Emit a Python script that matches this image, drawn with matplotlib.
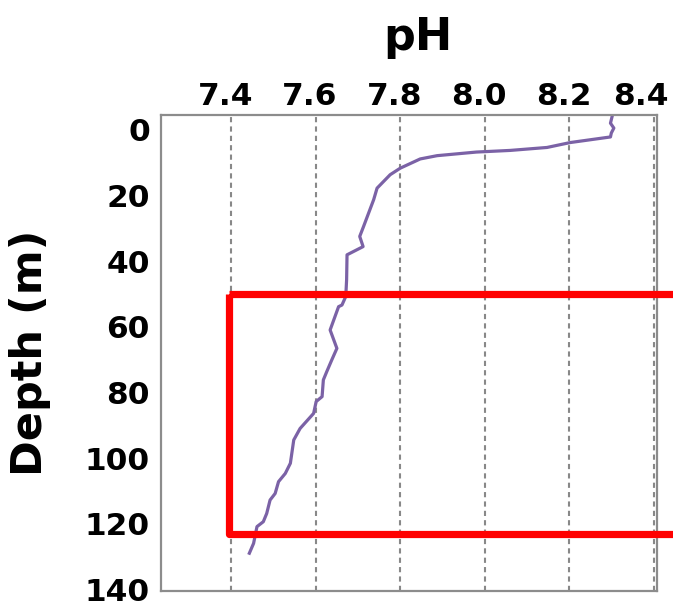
import matplotlib
matplotlib.use('Agg')
import matplotlib.pyplot as plt
import matplotlib.transforms as mtransforms
from matplotlib.patches import Rectangle

# pH profile (depth in m)
depth = [-4.1, -2.0, -0.5, 1.0, 2.2, 3.9, 5.4, 6.3, 6.8, 7.9, 8.9, 11.7, 13.7,
         17.8, 21.3, 25.4, 29.5, 32.5, 35.6, 38.1, 45.7, 50.8, 53.4, 53.9,
         61.0, 66.6, 70.1, 73.7, 76.2, 81.3, 82.8, 86.4, 91.0, 94.5, 101.6,
         104.7, 107.2, 110.8, 112.8, 116.9, 119.4, 120.9, 126.0, 129.0]
ph = [8.301, 8.297, 8.305, 8.299, 8.297, 8.202, 8.147, 8.06, 7.98, 7.887,
      7.847, 7.80, 7.776, 7.745, 7.737, 7.725, 7.713, 7.704, 7.712, 7.674,
      7.673, 7.671, 7.662, 7.654, 7.634, 7.650, 7.638, 7.626, 7.618, 7.615,
      7.601, 7.595, 7.563, 7.548, 7.540, 7.528, 7.512, 7.504, 7.492, 7.484,
      7.476, 7.461, 7.453, 7.443]

ph_ticks = [7.4, 7.6, 7.8, 8.0, 8.2, 8.4]
depth_ticks = [0, 20, 40, 60, 80, 100, 120, 140]

# highlighted layer
box_left = 7.395
box_top = 50
box_bottom = 123

plt.rcParams['font.family'] = 'DejaVu Sans'
plt.rcParams['font.weight'] = 'bold'

fig = plt.figure(figsize=(6.73, 6.06), dpi=100)
ax = fig.add_axes([0.2392, 0.0248, 0.737, 0.7855])

ax.plot(ph, depth, color='#7b62a6', lw=2.3, solid_joinstyle='round')

ax.set_xlim(7.234, 8.407)
ax.set_ylim(140.5, -4.5)
ax.set_xticks(ph_ticks)
ax.set_xticklabels(['%.1f' % v for v in ph_ticks])
ax.set_yticks(depth_ticks)
ax.xaxis.tick_top()
ax.xaxis.set_label_position('top')
ax.tick_params(length=0, labelsize=22.5)
ax.tick_params(axis='x', pad=3)
ax.tick_params(axis='y', pad=8)
for lab in ax.get_xticklabels() + ax.get_yticklabels():
    lab.set_fontweight('bold')

# labels sit a little left of their gridlines, the last one pulled in to fit
xlabs = ax.get_xticklabels()
for i, lab in enumerate(xlabs):
    dx = -0.13 if i == len(xlabs) - 1 else -0.06
    lab.set_transform(lab.get_transform() +
                      mtransforms.ScaledTranslation(dx, 0, fig.dpi_scale_trans))

ax.grid(axis='x', color='#888888', ls=(0, (2.5, 2)), lw=1.5)
ax.set_axisbelow(True)
for s in ax.spines.values():
    s.set_color('#8c8c8c')
    s.set_linewidth(1.6)

ax.set_xlabel('pH', fontsize=32, fontweight='bold', labelpad=23)
ax.xaxis.label.set_x(0.518)
ax.set_ylabel('Depth (m)', fontsize=31, fontweight='bold', labelpad=24)

rect = Rectangle((box_left, box_top), 8.8 - box_left, box_bottom - box_top,
                 fill=False, edgecolor='#ff0000', lw=5.2, joinstyle='round',
                 clip_on=False, zorder=5)
ax.add_patch(rect)

fig.savefig('out.png', dpi=100)
